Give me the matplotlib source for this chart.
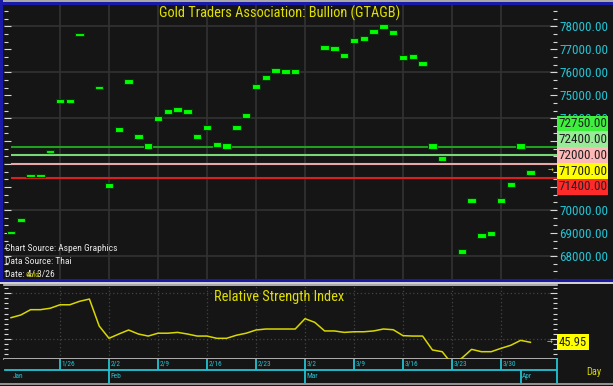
import numpy as np
import pandas as pd
import matplotlib
matplotlib.use("Agg")
import matplotlib.pyplot as plt
from matplotlib import font_manager as fm
from matplotlib.patches import Rectangle
from matplotlib.ticker import MultipleLocator, FixedLocator, FuncFormatter

# ---------------- data ----------------
trading_days = pd.bdate_range('2026-01-19', '2026-04-02')
nan = np.nan
price = [69010, 69570, 71500, 71500, 72540, 74750, 74750, 77630, nan, 75340,
         71050, 73500, 75590, 73190, 72790, 74000, 74310, 74390, 74300, 73190,
         73590, 72850, 72790, 73590, 74100, 75390, 75790, 76080, 76040, 76040,
         nan, nan, 77080, 77040, 76740, 77380, 77480, 77780, 77980, 77740,
         76630, 76680, 76390, 72790, 72250, nan, 68200, 70410, 68900, 69000,
         70410, 71100, 72790, 71650]
rsi = [57.98, 59.3, 61.9, 61.9, 62.6, 64.3, 64.3, 66.0, 67.1, 53.9,
       47.9, 50.0, 51.96, 50.0, 49.0, 50.4, 50.4, 50.8, 50.0, 49.0,
       49.0, 47.9, 47.9, 49.4, 50.4, 51.96, 52.45, 52.45, 52.45, 52.45,
       57.5, 55.7, 51.5, 51.5, 50.8, 51.1, 51.1, 51.5, 52.45, 52.1,
       49.2, 49.0, 49.0, 42.2, 41.35, 35.3, 38.2, 42.5, 41.35, 41.35,
       43.0, 44.5, 46.9, 45.95]
level_values = [72750, 72400, 72000, 71400]
last_price_label = 71700
rsi_last_label = 45.95
price_tick_values = [68000, 69000, 70000, 71000, 72000, 73000, 74000, 75000, 76000, 77000, 78000]
hidden_tick_labels = [71000, 72000, 73000]   # covered by the level boxes
week_labels = ['1/26', '2/2', '2/9', '2/16', '2/23', '3/2', '3/9', '3/16', '3/23', '3/30']
week_dates = ['2026-01-26', '2026-02-02', '2026-02-09', '2026-02-16', '2026-02-23',
              '2026-03-02', '2026-03-09', '2026-03-16', '2026-03-23', '2026-03-30']
month_labels = ['Jan', 'Feb', 'Mar', 'Apr']
month_dates = ['2026-01-19', '2026-02-02', '2026-03-02', '2026-04-01']
title = 'Gold Traders Association: Bullion (GTAGB)'
rsi_title = 'Relative Strength Index'
notes = ['Chart Source: Aspen Graphics', 'Data Source: Thai', 'Date: 4/ 3/26']

# ---------------- font choice ----------------
names = {f.name for f in fm.fontManager.ttflist}
FONT = 'Liberation Sans'
for cand in ['Liberation Sans Narrow', 'Arial Narrow', 'Roboto Condensed',
             'Open Sans Condensed', 'Noto Sans Condensed', 'PT Sans Narrow']:
    if cand in names:
        FONT = cand
        break
plt.rcParams['font.family'] = [FONT, 'DejaVu Sans']

# ---------------- styles ----------------
W, H = 613, 386
BG = '#151515'
CYAN = '#22c4d4'
YELLOW = '#e0e000'
level_line_colors = ['#20a020', '#78d878', '#e8a8a8', '#d82020']
level_box_colors = ['#3cf03c', '#98ec98', '#ffb8b8', '#ff2a2a']
last_box_color = '#ffff00'

fig = plt.figure(figsize=(W / 100, H / 100), dpi=100, facecolor=BG)
renderer = fig.canvas.get_renderer()


def size_for(s, target_px, base=10.0):
    t = fig.text(0, 0, s, fontsize=base)
    w = t.get_window_extent(renderer).width
    t.remove()
    return base * target_px / w


def axes_px(l, t, r, b):
    return fig.add_axes([l / W, 1 - b / H, (r - l) / W, (b - t) / H])


def rect_px(x0, y0, x1, y1, color, z=5):
    fig.add_artist(Rectangle((x0 / W, 1 - y1 / H), (x1 - x0) / W, (y1 - y0) / H,
                             transform=fig.transFigure, color=color, lw=0, zorder=z))


fs_title = min(12.5, size_for(title, 242))
fs_rsi_title = min(12.5, size_for(rsi_title, 130))
fs_price = min(11.0, size_for('78000.00', 48))
fs_rsi_val = min(11.0, size_for('45.95', 28))
fs_note = min(7.5, size_for(notes[0], 111))
fs_week = min(6.5, size_for('1/26', 13.5))
fs_day = 7.5

x = np.arange(len(trading_days))
week_idx = [trading_days.get_loc(pd.Timestamp(d)) for d in week_dates]
month_idx = [trading_days.get_loc(pd.Timestamp(d)) for d in month_dates]
XL = (-0.765, 55.66)

# ---------------- main price panel ----------------
ax = axes_px(3.5, 5, 556.5, 279)
ax.set_facecolor(BG)
ax.set_xlim(*XL)
ax.set_ylim(66999, 78927)
for s in ax.spines.values():
    s.set_visible(False)

ax.xaxis.set_major_locator(FixedLocator(week_idx))
ax.tick_params(axis='x', length=0, labelbottom=False)
ax.yaxis.set_major_locator(FixedLocator(price_tick_values))
ax.yaxis.set_minor_locator(MultipleLocator(1000 / 3))
ax.yaxis.set_major_formatter(FuncFormatter(
    lambda v, p: '' if round(v) in hidden_tick_labels else f'{v:.2f}'))
ax.tick_params(axis='y', which='both', direction='in', left=True, right=True,
               labelleft=False, labelright=True, color='#d8d8d8', width=0.8,
               labelcolor=CYAN, labelsize=fs_price, pad=2)
ax.tick_params(axis='y', which='major', length=5)
ax.tick_params(axis='y', which='minor', length=3)
ax.grid(axis='x', color='#333333', lw=1.2)
for gy in range(68000, 79000, 2000):
    ax.axhline(gy, color='#333333', lw=1.2, zorder=0.5)

for lv, c in zip(level_values, level_line_colors):
    ax.hlines(lv, 0, XL[1], color=c, lw=1.5, zorder=2)

px = np.array(price, dtype=float)
ok = ~np.isnan(px)
heights = np.where(trading_days < pd.Timestamp('2026-02-01'), 140, 220)
ax.bar(x[ok], heights[ok], bottom=px[ok] - heights[ok] / 2, width=0.86,
       color='#00ff00', edgecolor='#063806', lw=0.8, zorder=3)

fig.text(280 / W, 1 - 13.5 / H, title, color=YELLOW, fontsize=fs_title,
         ha='center', va='center', zorder=10)
for i, t in enumerate(notes):
    fig.text(5 / W, 1 - (249 + 12.7 * i) / H, t, color='#e6e6e6', fontsize=fs_note,
             ha='left', va='center', zorder=10)
fig.text(25 / W, 1 - 275 / H, 'Gold', color='#c8c800', fontsize=fs_note * 0.8,
         ha='left', va='center', zorder=11)

# stacked value boxes on the right
y_last = ax.transData.transform((0, last_price_label))[1]
box_h = 15.85
stack = [(lv, c, k) for lv, c, k in zip(level_values, level_box_colors, [-3, -2, -1, 1])]
stack.append((last_price_label, last_box_color, 0))
for val, col, k in stack:
    yc = (y_last - k * box_h) / H
    fig.add_artist(Rectangle((557 / W, yc - box_h / 2 / H), 51 / W, box_h / H,
                             transform=fig.transFigure, color=col, lw=0, zorder=12))
    fig.text(582.5 / W, yc, f'{val:.2f}', color='#202020', fontsize=fs_price,
             ha='center', va='center', zorder=13)
fig.text(551 / W, y_last / H, '→', color=YELLOW, fontsize=5, ha='center',
         va='center', family='DejaVu Sans', zorder=13)

# ---------------- RSI panel ----------------
ar = axes_px(3.5, 285, 556.5, 358.7)
ar.set_facecolor(BG)
ar.set_xlim(*XL)
ar.set_ylim(37.93, 73.97)
for k in ['left', 'right']:
    ar.spines[k].set_visible(False)
for k in ['top', 'bottom']:
    ar.spines[k].set_color('#c8c8c8')
    ar.spines[k].set_linewidth(1.2)
ar.xaxis.set_major_locator(FixedLocator(week_idx))
ar.tick_params(axis='x', length=0, labelbottom=False)
ar.yaxis.set_major_locator(FixedLocator([47.5, 70]))
ar.yaxis.set_minor_locator(MultipleLocator(2.5))
ar.tick_params(axis='y', which='both', direction='in', left=True, right=True,
               labelleft=False, labelright=False, color='#d8d8d8', width=0.8)
ar.tick_params(axis='y', which='major', length=5)
ar.tick_params(axis='y', which='minor', length=3)
ar.grid(True, color='#444444', lw=0.9, ls=(0, (1, 2)))
ar.plot(x, rsi, color='#d8d800', lw=1.1, zorder=3)
fig.text(279 / W, 1 - 297.5 / H, rsi_title, color=YELLOW, fontsize=fs_rsi_title,
         ha='center', va='center', zorder=10)
y_r = ar.transData.transform((0, rsi_last_label))[1]
fig.add_artist(Rectangle((556.7 / W, (y_r - 8.2) / H), 32.6 / W, 16.4 / H,
                         transform=fig.transFigure, color='#ffff00', lw=0, zorder=12))
fig.text(573 / W, y_r / H, f'{rsi_last_label:.2f}', color='#202020', fontsize=fs_rsi_val,
         ha='center', va='center', zorder=13)
fig.text(550 / W, y_r / H, '→', color=YELLOW, fontsize=5, ha='center',
         va='center', family='DejaVu Sans', zorder=13)
fig.text(594 / W, 1 - 372 / H, 'Day', color='#d8d800', fontsize=fs_day,
         ha='center', va='center', zorder=10)

# ---------------- date band ----------------
ad = axes_px(3.5, 358.7, 556.5, 383)
ad.set_facecolor(BG)
ad.set_xlim(*XL)
ad.set_ylim(0, 1)
ad.set_xticks([])
ad.set_yticks([])
for k in ['left', 'top', 'bottom']:
    ad.spines[k].set_visible(False)
ad.spines['right'].set_color(CYAN)
ad.spines['right'].set_linewidth(1.3)
mid = (383 - 370) / 24.3
ad.axhline(mid, xmin=0.003, color=CYAN, lw=1.3)
for wi, wl in zip(week_idx, week_labels):
    ad.vlines(wi, mid, 1, color=CYAN, lw=1.3)
    ad.text(wi + 0.15, (1 + mid) / 2, wl, color=CYAN, fontsize=fs_week,
            ha='left', va='center')
for mi, ml in zip(month_idx, month_labels):
    if mi > 0:
        ad.vlines(mi, 0, mid, color=CYAN, lw=1.3)
    ad.text(mi + 0.15, mid / 2, ml, color=CYAN, fontsize=fs_week, ha='left', va='center')

# ---------------- frame ----------------
rect_px(0, 0, W, 2, '#a8a8a8', 20)
rect_px(0, 2, W, 4.5, '#1a1aa8', 20)
rect_px(0, 0, 2.8, 281.5, '#1a1aa8', 20)
rect_px(0, 279, W, 281.7, '#1a1aa8', 20)
rect_px(0, 282.3, W, 284, '#d0d0d0', 20)
rect_px(0, 383, W, 384.5, '#909090', 20)

fig.savefig('out.png', dpi=100, facecolor=BG)
